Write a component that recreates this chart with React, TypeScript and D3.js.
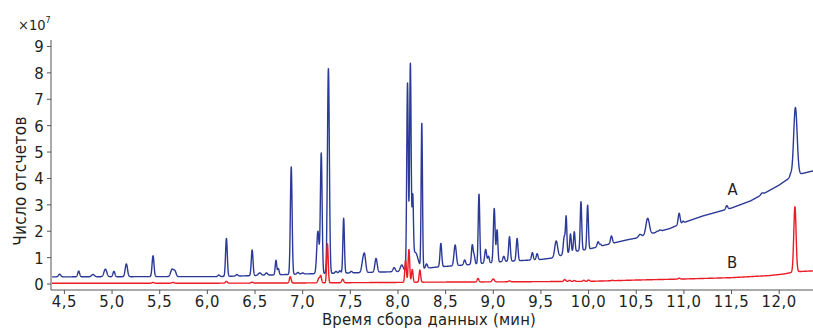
import React from "react";
import * as d3 from "d3";

// ---- Data ----
const xTicks = [4.5, 5.0, 5.5, 6.0, 6.5, 7.0, 7.5, 8.0, 8.5, 9.0, 9.5, 10.0, 10.5, 11.0, 11.5, 12.0];
const yTicks = [0, 1, 2, 3, 4, 5, 6, 7, 8, 9];

// Baseline of trace A (x10^7 counts) at retention times (min)
const baseATimes = [4.36, 5.5, 6.1, 6.5, 7.0, 7.5, 8.0, 8.2, 8.4, 8.7, 9.1, 9.5, 9.65, 9.8, 10.0, 10.2, 10.4, 10.5, 10.7, 10.85, 11.0, 11.2, 11.5, 11.7, 11.9, 12.0, 12.1, 12.2, 12.37];
const baseAValues = [0.27, 0.28, 0.28, 0.32, 0.38, 0.42, 0.47, 0.55, 0.64, 0.72, 0.85, 0.93, 1.0, 1.2, 1.32, 1.5, 1.67, 1.74, 1.95, 2.1, 2.33, 2.58, 2.88, 3.15, 3.55, 3.75, 4.0, 4.15, 4.3];

// Peaks of trace A: retention time, apex value, width (min)
const peakATimes = [4.45, 4.65, 4.80, 4.93, 5.02, 5.15, 5.43, 5.63, 5.66, 6.12, 6.20, 6.31, 6.47, 6.55, 6.62, 6.72, 6.745, 6.88, 6.95, 7.00, 7.16, 7.195, 7.27, 7.35, 7.39, 7.43, 7.51, 7.63, 7.65, 7.77, 7.96, 8.04, 8.10, 8.13, 8.155, 8.18, 8.25, 8.30, 8.45, 8.60, 8.70, 8.78, 8.80, 8.85, 8.92, 8.95, 9.01, 9.04, 9.11, 9.17, 9.25, 9.41, 9.46, 9.66, 9.745, 9.765, 9.81, 9.85, 9.92, 9.99, 10.10, 10.125, 10.24, 10.54, 10.62, 10.72, 10.75, 10.95, 10.99, 11.45, 11.82, 12.12, 12.17];
const peakAApex = [0.37, 0.49, 0.36, 0.56, 0.48, 0.76, 1.07, 0.56, 0.48, 0.34, 1.73, 0.36, 1.29, 0.42, 0.42, 0.90, 0.58, 4.44, 0.44, 0.42, 2.0, 4.95, 8.17, 0.48, 0.50, 2.49, 0.48, 0.8, 1.06, 0.97, 0.62, 0.72, 7.6, 8.2, 2.9, 1.2, 6.06, 0.76, 1.54, 1.48, 0.91, 1.48, 1.05, 3.41, 1.31, 1.05, 2.87, 2.05, 1.05, 1.79, 1.73, 1.19, 1.15, 1.63, 1.8, 2.49, 1.9, 1.98, 3.12, 2.99, 1.6, 1.5, 1.82, 1.88, 2.49, 2.0, 2.05, 2.68, 2.38, 2.97, 3.45, 4.15, 6.69];
const peakAWidth = [0.012, 0.01, 0.015, 0.015, 0.01, 0.012, 0.01, 0.015, 0.012, 0.01, 0.009, 0.01, 0.009, 0.015, 0.012, 0.008, 0.008, 0.009, 0.01, 0.01, 0.012, 0.009, 0.01, 0.01, 0.01, 0.008, 0.01, 0.012, 0.012, 0.012, 0.012, 0.015, 0.008, 0.008, 0.007, 0.03, 0.007, 0.01, 0.009, 0.012, 0.01, 0.009, 0.008, 0.008, 0.01, 0.008, 0.009, 0.008, 0.01, 0.009, 0.009, 0.009, 0.009, 0.015, 0.01, 0.007, 0.008, 0.008, 0.008, 0.008, 0.01, 0.008, 0.01, 0.015, 0.018, 0.01, 0.01, 0.01, 0.008, 0.01, 0.012, 0.01, 0.018];

// Baseline of trace B
const baseBTimes = [4.36, 6.0, 7.0, 8.0, 8.3, 9.0, 9.5, 10.0, 10.5, 11.0, 11.5, 11.9, 12.05, 12.12, 12.2, 12.37];
const baseBValues = [0.03, 0.03, 0.04, 0.06, 0.07, 0.08, 0.09, 0.1, 0.15, 0.19, 0.24, 0.32, 0.38, 0.43, 0.47, 0.5];

// Peaks of trace B
const peakBTimes = [5.43, 5.64, 6.20, 6.47, 6.87, 7.17, 7.19, 7.26, 7.42, 7.77, 8.08, 8.115, 8.15, 8.23, 8.84, 9.0, 9.17, 9.75, 9.8, 9.85, 9.95, 10.0, 10.25, 10.95, 12.165];
const peakBApex = [0.06, 0.06, 0.1, 0.07, 0.28, 0.22, 0.3, 1.52, 0.18, 0.06, 0.91, 1.31, 0.55, 0.53, 0.21, 0.19, 0.12, 0.17, 0.14, 0.13, 0.14, 0.15, 0.14, 0.22, 2.93];
const peakBWidth = [0.01, 0.012, 0.01, 0.01, 0.009, 0.01, 0.008, 0.008, 0.01, 0.01, 0.008, 0.008, 0.008, 0.008, 0.009, 0.012, 0.01, 0.01, 0.01, 0.01, 0.01, 0.01, 0.01, 0.01, 0.012];

const seriesLabels = ["A", "B"];

// ---- Build traces ----
function buildTrace(bt: number[], bv: number[], pt: number[], pa: number[], pw: number[]) {
  const base = d3.scaleLinear().domain(bt).range(bv).clamp(true);
  const amps = pt.map((t, i) => pa[i] - base(t));
  const out: [number, number][] = [];
  const t0 = 4.37, t1 = 12.37, step = 0.0015;
  for (let t = t0; t <= t1 + 1e-9; t += step) {
    let v = base(t);
    for (let i = 0; i < pt.length; i++) {
      const d = (t - pt[i]) / pw[i];
      if (Math.abs(d) < 6) v += amps[i] * Math.exp(-0.5 * d * d);
    }
    out.push([t, v]);
  }
  return out;
}

const traceA = buildTrace(baseATimes, baseAValues, peakATimes, peakAApex, peakAWidth);
const traceB = buildTrace(baseBTimes, baseBValues, peakBTimes, peakBApex, peakBWidth);

const W = 813, H = 330;
const FONT = "'Liberation Sans Narrow', 'DejaVu Sans Condensed', 'Roboto', sans-serif";

export default function App() {
  const x = d3.scaleLinear().domain([4.5, 12.0]).range([64.4, 779.2]);
  const y = d3.scaleLinear().domain([0, 9]).range([284, 46.5]);
  const line = d3.line<[number, number]>().x(d => x(d[0])).y(d => y(d[1]));
  const axisX0 = 51, axisY = 290;
  const txt = "#231f20";

  return (
    <svg width={W} height={H} style={{ position: "absolute", left: 0, top: 0, background: "#fff" }} fontFamily={FONT}>
      <defs>
        <clipPath id="plot">
          <rect x={axisX0 + 1} y={0} width={W - axisX0} height={axisY} />
        </clipPath>
      </defs>
      {/* axes */}
      <line x1={axisX0} x2={axisX0} y1={40} y2={axisY} stroke="#555" strokeWidth={1} />
      <line x1={axisX0} x2={W} y1={axisY} y2={axisY} stroke="#555" strokeWidth={1} />
      {yTicks.map(v => (
        <g key={"y" + v}>
          <line x1={axisX0 - 4} x2={axisX0} y1={y(v)} y2={y(v)} stroke="#555" />
          <text x={44} y={y(v)} dy="0.36em" textAnchor="end" fontSize={16.5} letterSpacing={0.4} fill={txt}>{v}</text>
        </g>
      ))}
      {xTicks.map(v => (
        <g key={"x" + v}>
          <line x1={x(v)} x2={x(v)} y1={axisY} y2={axisY + 4} stroke="#555" />
          <text x={x(v)} y={307} textAnchor="middle" fontSize={16.5} letterSpacing={0.6} fill={txt}>{v.toFixed(1).replace(".", ",")}</text>
        </g>
      ))}
      <text x={18} y={30} fontSize={14.5} fill={txt}>×10<tspan dy={-7} fontSize={9}>7</tspan></text>
      <text transform="translate(26,181) rotate(-90)" textAnchor="middle" fontSize={17} letterSpacing={0.3} fill={txt}>Число отсчетов</text>
      <text x={429} y={325} textAnchor="middle" fontSize={16.5} letterSpacing={0.2} fill={txt}>Время сбора данных (мин)</text>

      <g clipPath="url(#plot)">
        <path d={line(traceA) || ""} fill="none" stroke="#2b3a97" strokeWidth={1.4} strokeLinejoin="round" />
        <path d={line(traceB) || ""} fill="none" stroke="#ec1c24" strokeWidth={1.4} strokeLinejoin="round" />
      </g>
      <text x={732.5} y={195} textAnchor="middle" fontSize={16.5} fill={txt}>{seriesLabels[0]}</text>
      <text x={732} y={268} textAnchor="middle" fontSize={16.5} fill={txt}>{seriesLabels[1]}</text>
    </svg>
  );
}
